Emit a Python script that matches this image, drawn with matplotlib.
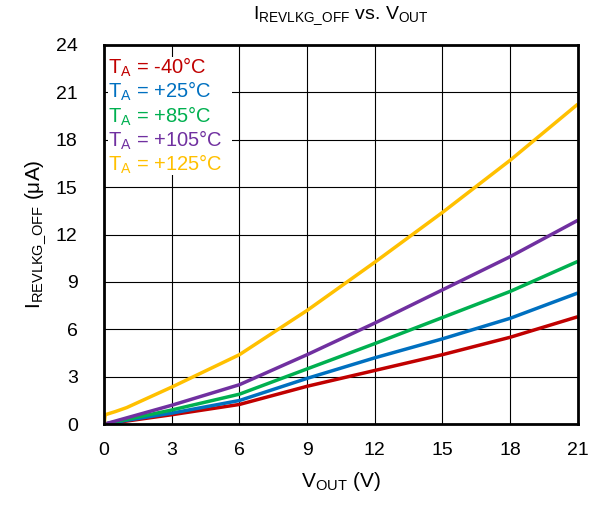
import numpy as np
import matplotlib.pyplot as plt
from matplotlib.patches import Rectangle

plt.rcParams['font.family'] = ['Liberation Sans', 'DejaVu Sans']
plt.rcParams['mathtext.fontset'] = 'custom'
plt.rcParams['mathtext.rm'] = 'Liberation Sans'

# V_OUT (V)
vout = [0, 0.05, 0.5, 1, 3, 6, 9, 12, 15, 18, 21]

# I_REVLKG_OFF (uA) per temperature
i_m40 = [0, 0.01, 0.1, 0.2, 0.6, 1.25, 2.4, 3.4, 4.4, 5.5, 6.8]
i_25 = [0, 0.01, 0.12, 0.25, 0.7, 1.5, 2.9, 4.2, 5.4, 6.7, 8.3]
i_85 = [0, 0.02, 0.15, 0.3, 0.9, 1.9, 3.5, 5.1, 6.75, 8.4, 10.3]
i_105 = [0, 0.02, 0.2, 0.4, 1.2, 2.5, 4.4, 6.4, 8.5, 10.6, 12.9]
i_125 = [0, 0.6, 0.8, 1.05, 2.35, 4.4, 7.2, 10.25, 13.4, 16.7, 20.25]

labels = ['-40°C', '+25°C', '+85°C', '+105°C', '+125°C']
colors = ['#C00000', '#0070C0', '#00B050', '#7030A0', '#FFC000']
series = [i_m40, i_25, i_85, i_105, i_125]

fig = plt.figure(figsize=(5.95, 5.05), dpi=100)
ax = fig.add_axes([0.175, 0.160, 0.796, 0.751])

for s, c in zip(series, colors):
    ax.plot(vout, s, color=c, linewidth=2.5, solid_capstyle='butt')

ax.set_xlim(0, 21)
ax.set_ylim(0, 24)
ax.set_xticks(np.arange(0, 22, 3))
ax.set_yticks(np.arange(0, 25, 3))
ax.grid(True, color='black', linewidth=0.8)
ax.tick_params(direction='in', length=0, labelsize=14)
ax.tick_params(axis='y', pad=19)
ax.tick_params(axis='x', pad=13)
for sp in ax.spines.values():
    sp.set_linewidth(2)

ax.set_xlabel(r'V$_{\mathregular{OUT}}$ (V)', fontsize=15, labelpad=8)
ax.set_ylabel(r'I$_{\mathregular{REVLKG\_OFF}}$ (μA)', fontsize=15, labelpad=5)
ax.set_title(r'I$_{\mathregular{REVLKG\_OFF}}$ vs. V$_{\mathregular{OUT}}$', fontsize=14, pad=19)

# white box behind the temperature labels
ax.add_patch(Rectangle((0.008, 0.657), 0.262, 0.311, transform=ax.transAxes,
                       facecolor='white', edgecolor='none', zorder=3))
for k, (lab, c) in enumerate(zip(labels, colors)):
    ax.text(0.008, 0.94 - k * 0.0635, r'T$_{\mathregular{A}}$ = ' + lab,
            transform=ax.transAxes, color=c, fontsize=14.5, va='center', ha='left',
            zorder=4)

fig.savefig('out.png', dpi=100)
